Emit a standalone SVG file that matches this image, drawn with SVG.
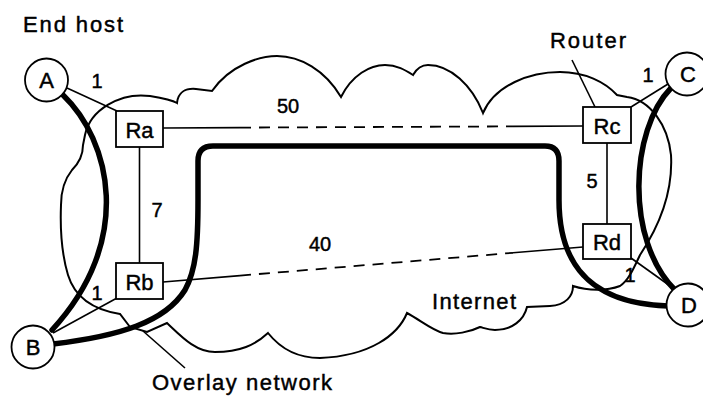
<svg xmlns="http://www.w3.org/2000/svg" width="703" height="397" viewBox="0 0 703 397">
<style>
text{font-family:"Liberation Sans",Arial,Helvetica,sans-serif;fill:#000;stroke:#000;stroke-width:0.45}
.lbl{font-size:22px}
.num{font-size:20px;text-anchor:middle}
.rt{font-size:22px;text-anchor:middle}
.ht{font-size:22px;text-anchor:middle}
.cloud{fill:none;stroke:#000;stroke-width:2;stroke-linejoin:miter}
.thin{fill:none;stroke:#000;stroke-width:1.6}
.dash{fill:none;stroke:#000;stroke-width:1.8;stroke-dasharray:11 8}
.thick{fill:none;stroke:#000;stroke-width:5.5;stroke-linecap:round}
.box{fill:#fff;stroke:#000;stroke-width:1.8}
.host{fill:#fff;stroke:#000;stroke-width:1.8}
</style>
<g id="internet-cloud">
<path class="cloud" d="M85,135 C90,110 120,92 150,96 C162,98 172,100 177,103 C178,93 185,88 196,89 L212,91 C230,65 260,56 277,56 C300,56 325,70 341,97 C352,75 370,65 385,65 C397,65 405,70 413,75 C417,68 422,65 428,65 C450,65 472,85 483,113 C495,85 530,72 560,72 C585,72 605,82 617,95 L627,97 C650,100 668,125 671,155 C673,190 660,225 640,255 C633,270 628,281 620,286 C607,291 588,291 573,286 C573,296 566,305 550,306 L527,307 C524,320 512,330 495,330 C488,330 484,328 480,327 C470,332 455,335 443,333 C432,330 420,320 407,313 C398,335 370,356 320,358 C298,358 280,348 268,333 C255,345 240,352 215,352 C195,352 180,335 167,323 L147,332 L130,327 L120,314 C95,310 75,298 68,275 C62,255 60,230 61,205 C61,190 64,180 72,170 C80,162 83,155 83,145 Z"/>
</g>
<g id="overlay">
<path class="thick" d="M63,95 C110,140 135,240 52,330"/>
<path class="thick" d="M53,344 C120,336 165,322 185,290 C196,270 198,245 198,200 L198,161 Q198,146 213,146 L545,146 Q559,146 559,161 L559,200 C559,250 577,303 668,306"/>
<path class="thick" d="M671,88 C630,130 625,240 675,290"/>
</g>
<g id="connectors">
<line class="thin" x1="67" y1="88" x2="117" y2="111"/>
<line class="thin" x1="53" y1="333" x2="117" y2="298"/>
<line class="thin" x1="668" y1="84" x2="631" y2="107"/>
<line class="thin" x1="631" y1="258" x2="673" y2="288"/>
<line class="thin" x1="139.5" y1="147" x2="139.5" y2="263"/>
<line class="thin" x1="607" y1="143" x2="607" y2="224"/>
<line class="thin" x1="163" y1="128" x2="240" y2="127.6"/>
<line class="dash" x1="240" y1="127.6" x2="513" y2="126.4"/>
<line class="thin" x1="513" y1="126.4" x2="583" y2="126"/>
<line class="thin" x1="163" y1="282" x2="240" y2="275.6"/>
<line class="dash" x1="240" y1="275.6" x2="513" y2="252.8"/>
<line class="thin" x1="513" y1="252.8" x2="583" y2="247"/>
<line class="thin" x1="572" y1="60" x2="595" y2="107"/>
<line class="thin" x1="143" y1="331" x2="185" y2="368"/>
</g>
<g id="Ra"><rect class="box" x="116" y="111" width="47" height="36"/><text class="rt" x="139.5" y="138">Ra</text></g>
<g id="Rb"><rect class="box" x="116" y="263" width="47" height="36"/><text class="rt" x="139.5" y="290">Rb</text></g>
<g id="Rc"><rect class="box" x="583" y="107" width="48" height="36"/><text class="rt" x="607" y="133.5">Rc</text></g>
<g id="Rd"><rect class="box" x="583" y="224" width="48" height="35"/><text class="rt" x="607" y="250">Rd</text></g>
<g id="A"><circle class="host" cx="46.5" cy="80" r="21.5"/><text class="ht" x="46.5" y="88">A</text></g>
<g id="B"><circle class="host" cx="33" cy="347" r="21.5"/><text class="ht" x="33" y="355">B</text></g>
<g id="C"><circle class="host" cx="687" cy="74" r="21.5"/><text class="ht" x="688" y="82">C</text></g>
<g id="D"><circle class="host" cx="688" cy="305" r="21.5"/><text class="ht" x="689" y="313">D</text></g>
<g id="labels">
<text class="lbl" x="23" y="32" textLength="100">End host</text>
<text class="lbl" x="550" y="48" textLength="76">Router</text>
<text class="lbl" x="152" y="390" textLength="180">Overlay network</text>
<text class="lbl" x="432" y="309" textLength="84">Internet</text>
<text class="num" x="97" y="88">1</text>
<text class="num" x="288" y="113">50</text>
<text class="num" x="157" y="217">7</text>
<text class="num" x="320" y="251">40</text>
<text class="num" x="592" y="188">5</text>
<text class="num" x="648" y="82">1</text>
<text class="num" x="630" y="282">1</text>
<text class="num" x="97" y="300">1</text>
</g>
</svg>
